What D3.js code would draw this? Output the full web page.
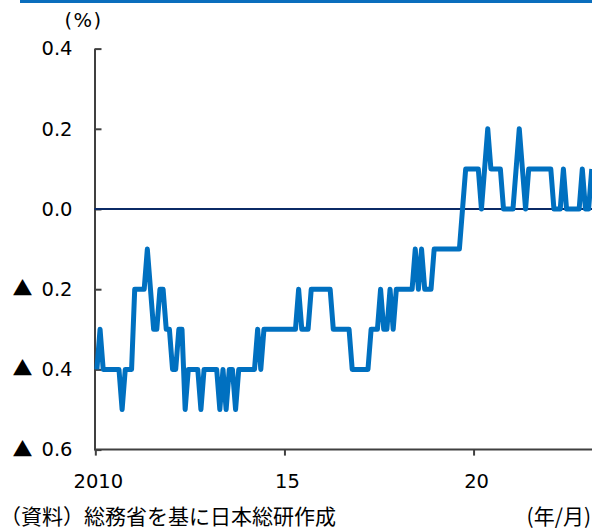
<!DOCTYPE html>
<html>
<head>
<meta charset="utf-8">
<script src="https://cdn.jsdelivr.net/npm/d3@7"></script>
<style>
  html, body { margin: 0; padding: 0; background: #fff; }
  svg { display: block; }
</style>
</head>
<body>
<svg id="chart" width="592" height="529"></svg>
<script>
// Monthly year-on-year change (%), starting January 2010
const startYear = 2010;
const values = [
  -0.4, -0.3, -0.4, -0.4, -0.4, -0.4, -0.4, -0.4, -0.5, -0.4, -0.4, -0.4,
  -0.2, -0.2, -0.2, -0.2, -0.1, -0.2, -0.3, -0.3, -0.2, -0.2, -0.3, -0.3,
  -0.4, -0.4, -0.3, -0.3, -0.5, -0.4, -0.4, -0.4, -0.4, -0.5, -0.4, -0.4,
  -0.4, -0.4, -0.4, -0.5, -0.4, -0.5, -0.4, -0.4, -0.5, -0.4, -0.4, -0.4,
  -0.4, -0.4, -0.4, -0.3, -0.4, -0.3, -0.3, -0.3, -0.3, -0.3, -0.3, -0.3,
  -0.3, -0.3, -0.3, -0.3, -0.2, -0.3, -0.3, -0.3, -0.2, -0.2, -0.2, -0.2,
  -0.2, -0.2, -0.2, -0.3, -0.3, -0.3, -0.3, -0.3, -0.3, -0.4, -0.4, -0.4,
  -0.4, -0.4, -0.4, -0.3, -0.3, -0.3, -0.2, -0.3, -0.3, -0.2, -0.3, -0.2,
  -0.2, -0.2, -0.2, -0.2, -0.2, -0.1, -0.2, -0.1, -0.2, -0.2, -0.2, -0.1,
  -0.1, -0.1, -0.1, -0.1, -0.1, -0.1, -0.1, -0.1, 0.0, 0.1, 0.1, 0.1,
  0.1, 0.1, 0.0, 0.1, 0.2, 0.1, 0.1, 0.1, 0.1, 0.0, 0.0, 0.0,
  0.0, 0.1, 0.2, 0.1, 0.0, 0.1, 0.1, 0.1, 0.1, 0.1, 0.1, 0.1,
  0.1, 0.0, 0.0, 0.0, 0.1, 0.0, 0.0, 0.0, 0.0, 0.0, 0.1, 0.0,
  0.0, 0.1
];

// Axis ticks: year boundaries (month index before January) and their labels
const yTicks = [0.4, 0.2, 0.0, -0.2, -0.4, -0.6];
const xTickMonths = [-0.5, 59.5, 119.5];
const xTickLabels = ["2010", "15", "20"];

// Text
const unitLabel = "(%)";
const negMark = "▲";
const sourceLabel = "（資料）総務省を基に日本総研作成";
const periodLabel = "(年/月)";

const svg = d3.select("#chart");
const W = 592, H = 529;

const margin = { left: 94.5, top: 48.6, bottom: 449.6 };

// Month index -> x (one category per month)
const x = d3.scaleLinear()
  .domain([0, 120])
  .range([96.9, 96.9 + 120 * 3.152]);

const y = d3.scaleLinear()
  .domain([-0.6, 0.4])
  .range([margin.bottom, margin.top]);

const numFont = "Verdana, 'DejaVu Sans', sans-serif";
const jpFont = "'Noto Sans CJK JP', sans-serif";
const axisColor = "#404040";

// Header rule
svg.append("rect")
  .attr("x", 20).attr("y", 0)
  .attr("width", W - 20).attr("height", 3)
  .attr("fill", "#0A6EBD");

// Y axis
const yAxis = d3.axisLeft(y)
  .tickValues(yTicks)
  .tickSizeInner(-7)
  .tickSizeOuter(0)
  .tickPadding(22)
  .tickFormat(d => Math.abs(d).toFixed(1));

const gy = svg.append("g")
  .attr("transform", `translate(${margin.left},0)`)
  .call(yAxis);
gy.select(".domain").attr("stroke", axisColor).attr("stroke-width", 2);
gy.selectAll(".tick line").attr("stroke", axisColor).attr("stroke-width", 2);
gy.selectAll(".tick text")
  .attr("fill", "#000")
  .style("font-family", numFont)
  .style("font-size", "19.5px");

// Negative values carry a triangle mark in front of the number
gy.selectAll(".tick").each(function(d) {
  if (d >= 0) return;
  const tick = d3.select(this);
  const num = tick.select("text");
  const w = num.node().getComputedTextLength();
  const xEnd = +num.attr("x");
  tick.append("text")
    .attr("x", xEnd - w - 9)
    .attr("dy", "0.32em")
    .attr("text-anchor", "end")
    .attr("fill", "#000")
    .style("font-family", jpFont)
    .style("font-size", "20px")
    .text(negMark);
});

// X axis
const xAxis = d3.axisBottom(x)
  .tickValues(xTickMonths)
  .tickSizeInner(6)
  .tickSizeOuter(0)
  .tickPadding(19)
  .tickFormat((d, i) => xTickLabels[i]);

const gx = svg.append("g")
  .attr("transform", `translate(0,${margin.bottom})`)
  .call(xAxis);
gx.select(".domain")
  .attr("d", `M${margin.left},0H${W}`)
  .attr("stroke", axisColor).attr("stroke-width", 2);
gx.selectAll(".tick line").attr("stroke", axisColor).attr("stroke-width", 2);
gx.selectAll(".tick text")
  .attr("fill", "#000")
  .attr("dx", 2.5)
  .style("font-family", numFont)
  .style("font-size", "19.5px");

// Zero line
svg.append("line")
  .attr("x1", margin.left).attr("x2", W)
  .attr("y1", y(0)).attr("y2", y(0))
  .attr("stroke", "#0b2a66")
  .attr("stroke-width", 2);

// Series line
const line = d3.line()
  .x((d, i) => x(i))
  .y(d => y(d));

svg.append("path")
  .datum(values)
  .attr("d", line)
  .attr("fill", "none")
  .attr("stroke", "#0070C0")
  .attr("stroke-width", 5)
  .attr("stroke-linejoin", "round")
  .attr("stroke-linecap", "butt");

// Unit label
svg.append("text")
  .attr("x", 83.5).attr("y", 27)
  .attr("text-anchor", "middle")
  .attr("letter-spacing", "1.5px")
  .style("font-family", numFont)
  .style("font-size", "19.5px")
  .text(unitLabel);

// Source and period labels
svg.append("text")
  .attr("x", 0).attr("y", 524)
  .style("font-family", jpFont)
  .style("font-size", "21px")
  .text(sourceLabel);

svg.append("text")
  .attr("x", 591).attr("y", 524)
  .attr("text-anchor", "end")
  .style("font-family", jpFont)
  .style("font-size", "21px")
  .text(periodLabel);
</script>
</body>
</html>
